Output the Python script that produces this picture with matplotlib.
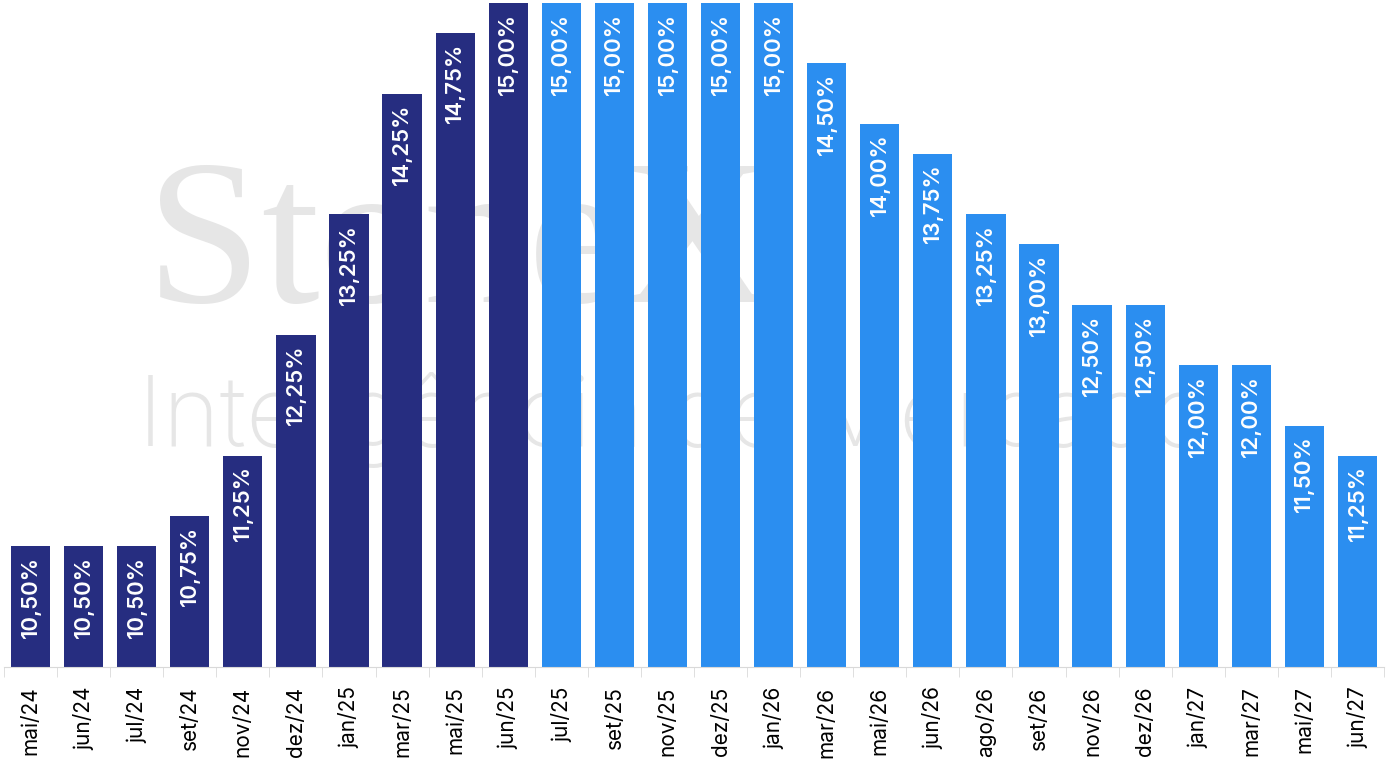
import matplotlib
matplotlib.use("Agg")
import matplotlib.pyplot as plt
import numpy as np

labels = ["mai/24","jun/24","jul/24","set/24","nov/24","dez/24","jan/25","mar/25","mai/25","jun/25",
          "jul/25","set/25","nov/25","dez/25","jan/26","mar/26","mai/26","jun/26","ago/26","set/26",
          "nov/26","dez/26","jan/27","mar/27","mai/27","jun/27"]
values = [10.50,10.50,10.50,10.75,11.25,12.25,13.25,14.25,14.75,15.00,
          15.00,15.00,15.00,15.00,15.00,14.50,14.00,13.75,13.25,13.00,
          12.50,12.50,12.00,12.00,11.50,11.25]
n_realized = 10

plt.rcParams['font.family'] = ['Inter', 'DejaVu Sans']
fig = plt.figure(figsize=(13.88, 7.63), dpi=100)
ax = fig.add_axes([4/1388, 96/763, 1380/1388, 664/763])
ax.set_zorder(1)
ax.patch.set_alpha(0)

# watermark
fig.text(0.33, 0.67, "StoneX", fontsize=150, color="#e6e6e6", family="Liberation Serif",
         ha="center", va="center", zorder=0)
fig.text(0.485, 0.45, "Inteligência de Mercado", fontsize=70, color="#e6e6e6",
         ha="center", va="center", zorder=0, fontweight="light")

x = np.arange(len(values))
colors = ["#262d80"]*n_realized + ["#2b8ef0"]*(len(values)-n_realized)
ax.bar(x, values, width=0.74, color=colors, zorder=2)
for xi, v in zip(x, values):
    ax.text(xi, v - 0.08, f"{v:.2f}".replace(".", ",") + "%", rotation=90, ha="center", va="top",
            color="white", fontsize=16, fontweight="semibold", zorder=3)

ax.set_xlim(-0.5, len(values)-0.5)
ax.set_ylim(9.5, 15.0)
ax.set_yticks([])
for s in ["left","right","top"]:
    ax.spines[s].set_visible(False)
ax.spines["bottom"].set_color("#d9d9d9")
ax.set_xticks(x)
ax.set_xticklabels(labels, rotation=90, fontsize=15, va="top")
ax.tick_params(axis="x", which="major", length=0, pad=14)
ax.set_xticks(np.arange(-0.5, len(values)), minor=True)
ax.tick_params(axis="x", which="minor", length=7, color="#d9d9d9")
fig.savefig("out.png", dpi=100)
